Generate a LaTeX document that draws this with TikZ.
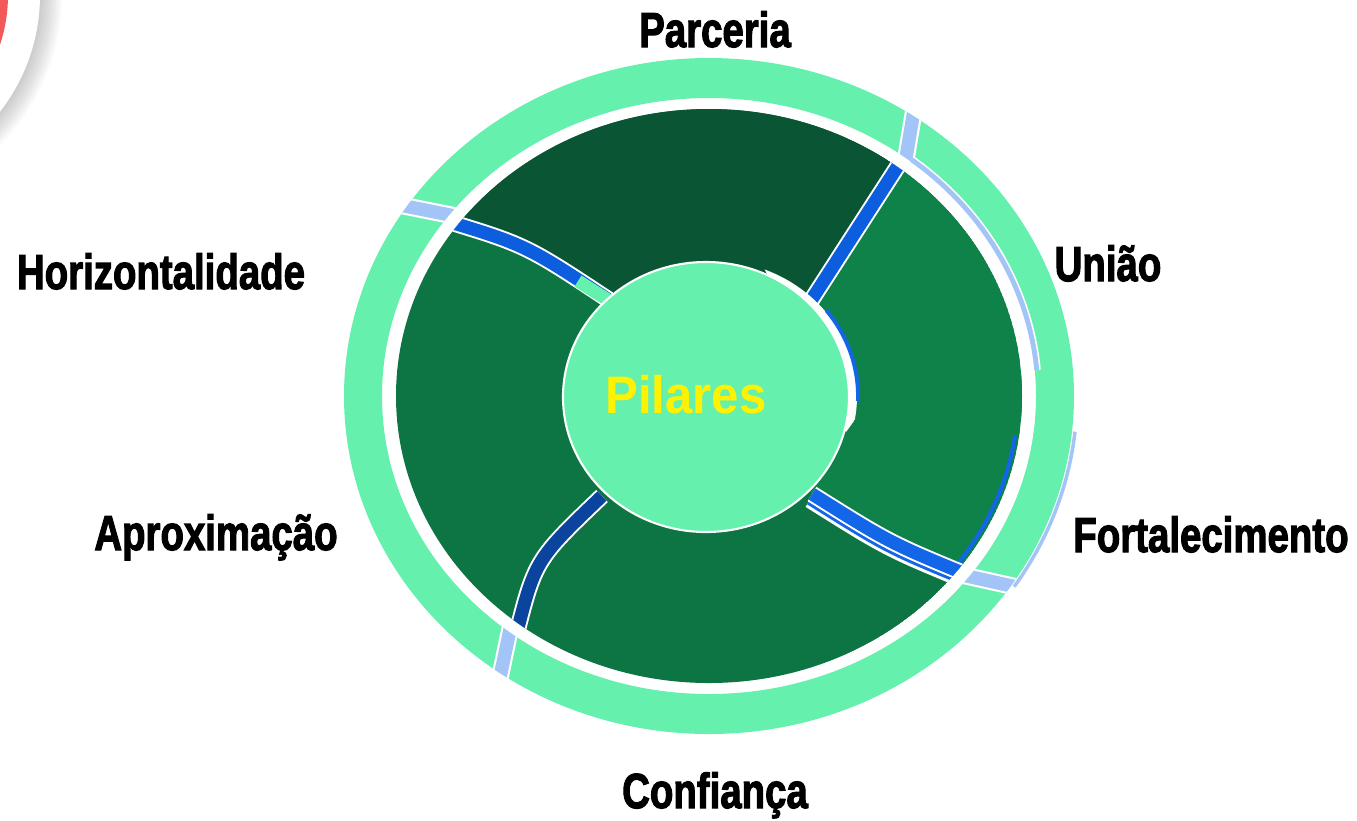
\documentclass[tikz,border=0pt]{standalone}
\usepackage{fontspec}
\setmainfont{Liberation Sans}
\newfontfamily\heavyfont{Liberation Sans Bold}[FakeBold=2.5]
\definecolor{ringgreen}{HTML}{66F0AE}
\definecolor{topgreen}{HTML}{0A5634}
\definecolor{midgreen}{HTML}{0D7443}
\definecolor{rightgreen}{HTML}{0E8249}
\definecolor{lblue}{HTML}{A3C4F7}
\definecolor{barblue}{HTML}{0D5EDF}
\definecolor{brblue}{HTML}{1366E8}
\definecolor{darkblue}{HTML}{0B449E}
\definecolor{cornerred}{HTML}{F25A5A}
\newcommand{\narrow}[1]{\scalebox{0.78}[1]{#1}}

\begin{document}
\begin{tikzpicture}[x=0.01cm,y=-0.01cm,
		lbl/.style={anchor=base,inner sep=0pt,font=\heavyfont\fontsize{14}{16}\selectfont},
		edgeline/.style={white,line width=4.8pt},
		bar/.style={line width=3.7pt},
		gapedge/.style={white,line width=5pt},
		gapbar/.style={lblue,line width=3.8pt}]
		\useasboundingbox (0,0) rectangle (1357,820);
		\coordinate (c) at (709,396);
		\coordinate (m) at (706,397);
		% corner decoration
		\begin{scope}
			\clip (0,0) rectangle (250,250);
			\foreach \i in {0,...,11}
				\fill[black,opacity=0.018] (-150,-5) circle ({190+2*\i});
			\fill[white] (-150,-5) circle (190);
			\fill[cornerred] (-150,-5) circle (158);
		\end{scope}
		% outer ring
		\fill[ringgreen,even odd rule] (c) ellipse (365 and 338) (c) ellipse (327 and 298);
		\begin{scope}[even odd rule]
			\clip (c) ellipse (365 and 338) (c) ellipse (327 and 298);
			\foreach \a/\b in {{(395,204)}/{(465,218)},{(915,104)}/{(903,176)},
				{(512,620)}/{(499,682)},{(958,574)}/{(1030,590)}}{
				\draw[gapedge] \a -- \b;
				\draw[gapbar] \a -- \b;}
		\end{scope}
		\draw[white,line width=2.3pt] (c) ++(-52:329 and 300) arc[start angle=-52,end angle=-5,x radius=329,y radius=300];
		\draw[lblue,line width=1.4pt] (c) ++(-52:329 and 300) arc[start angle=-52,end angle=-5,x radius=329,y radius=300];
		\draw[lblue,line width=1pt] (c) ++(6:368 and 341) arc[start angle=6,end angle=34,x radius=368,y radius=341];
		% sectors
		\begin{scope}
			\clip (c) ellipse (313 and 287);
			\fill[midgreen] (c) ellipse (313 and 287);
			\fill[topgreen] (440,219) .. controls (526,245) .. (612,302) -- (m)
				-- (805,310) .. controls (855,232) .. (905,155) -- (905,0) -- (380,0) -- cycle;
			\fill[rightgreen] (905,155) .. controls (855,232) .. (805,310) -- (m)
				-- (812,494) .. controls (890,543) .. (975,578) -- (1100,600) -- (1100,100) -- cycle;
			\draw[brblue,line width=1.1pt] (c) ++(8:309 and 283) arc[start angle=8,end angle=36,x radius=309,y radius=283];
			% separators
			\draw[edgeline] (440,219) .. controls (526,245) .. (612,302);
			\draw[bar,barblue] (440,219) .. controls (526,245) .. (612,302);
			\draw[bar,ringgreen] (578,281) -- (616,305);
			\draw[edgeline] (905,155) .. controls (855,232) .. (805,310);
			\draw[bar,barblue] (905,155) .. controls (855,232) .. (805,310);
			\draw[white,line width=2.6pt] (808,503) .. controls (886,552) .. (971,587);
			\draw[brblue,line width=0.9pt] (808,503) .. controls (886,552) .. (971,587);
			\draw[edgeline] (812,494) .. controls (890,543) .. (975,578);
			\draw[bar,brblue] (812,494) .. controls (890,543) .. (975,578);
			\draw[edgeline] (602,496) .. controls (535,560) .. (515,640);
			\draw[bar,darkblue] (602,496) .. controls (535,560) .. (515,640);
		\end{scope}
		% centre
		\begin{scope}
			\clip (755,250) -- (880,250) -- (880,385) -- (846,432) -- cycle;
			\fill[white] (711,396) ellipse (146 and 136);
			\draw[brblue,line width=1.1pt] (c) ++(-38:149 and 139) arc[start angle=-38,end angle=2,x radius=149,y radius=139];
		\end{scope}
		\fill[ringgreen,draw=white,line width=0.6pt] (m) ellipse (143 and 135);
		\node[anchor=base,inner sep=0pt,text=yellow,font=\bfseries\fontsize{15}{18}\selectfont] (pilares) at (686,413) {\scalebox{0.93}[1]{Pilares}};
		% labels
		\node[lbl] (parceria) at (715,47) {\narrow{Parceria}};
		\node[lbl] (uniao) at (1108,281) {\narrow{União}};
		\node[lbl] (horizontalidade) at (161,289) {\narrow{Horizontalidade}};
		\node[lbl] (aproximacao) at (216,550) {\narrow{Aproximação}};
		\node[lbl] (fortalecimento) at (1211,552) {\narrow{Fortalecimento}};
		\node[lbl] (confianca) at (715,808) {\narrow{Confiança}};
	\end{tikzpicture}
\end{document}
